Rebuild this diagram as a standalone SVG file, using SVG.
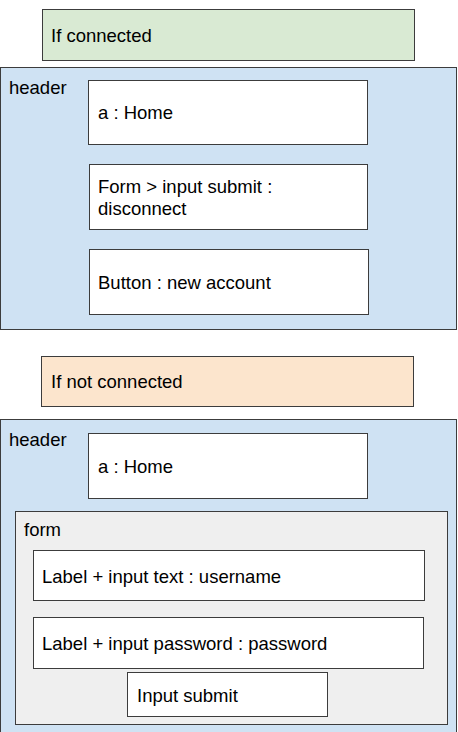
<svg xmlns="http://www.w3.org/2000/svg" width="458" height="732" viewBox="0 0 458 732">
<style>
rect{stroke:#3c3c3c;stroke-width:1}
text{font-family:"Liberation Sans",Arial,sans-serif;font-size:18.5px;fill:#000}
.w{fill:#ffffff}
.b{fill:#cfe2f3}
</style>
<rect width="458" height="732" fill="#ffffff" style="stroke:none"/>
<g id="cond1"><rect x="42.5" y="9.5" width="372" height="51" fill="#d9ead3"/><text x="51" y="42">If connected</text></g>
<g id="header1"><rect class="b" x="0.5" y="67.5" width="456" height="262"/><text x="9" y="94">header</text></g>
<g id="home1"><rect class="w" x="88.5" y="80.5" width="279" height="64"/><text x="98" y="119">a : Home</text></g>
<g id="disconnect"><rect class="w" x="89.5" y="164.5" width="278" height="65"/><text x="98" y="193">Form &gt; input submit :</text><text x="98" y="215">disconnect</text></g>
<g id="newaccount"><rect class="w" x="89.5" y="249.5" width="279" height="65"/><text x="98" y="289">Button : new account</text></g>
<g id="cond2"><rect x="41.5" y="356.5" width="372" height="50" fill="#fce5cd"/><text x="51" y="388">If not connected</text></g>
<g id="header2"><rect class="b" x="0.5" y="419.5" width="456" height="320"/><text x="9" y="446">header</text></g>
<g id="home2"><rect class="w" x="88.5" y="433.5" width="279" height="65"/><text x="98" y="473">a : Home</text></g>
<g id="form"><rect x="15.5" y="511.5" width="432" height="213" fill="#efefef"/><text x="24" y="536">form</text></g>
<g id="username"><rect class="w" x="33.5" y="550.5" width="391" height="50"/><text x="42" y="583">Label + input text : username</text></g>
<g id="password"><rect class="w" x="33.5" y="617.5" width="390" height="51"/><text x="42" y="650">Label + input password : password</text></g>
<g id="submit"><rect class="w" x="127.5" y="672.5" width="200" height="44"/><text x="137" y="702">Input submit</text></g>
<g id="connectors"></g>
</svg>
